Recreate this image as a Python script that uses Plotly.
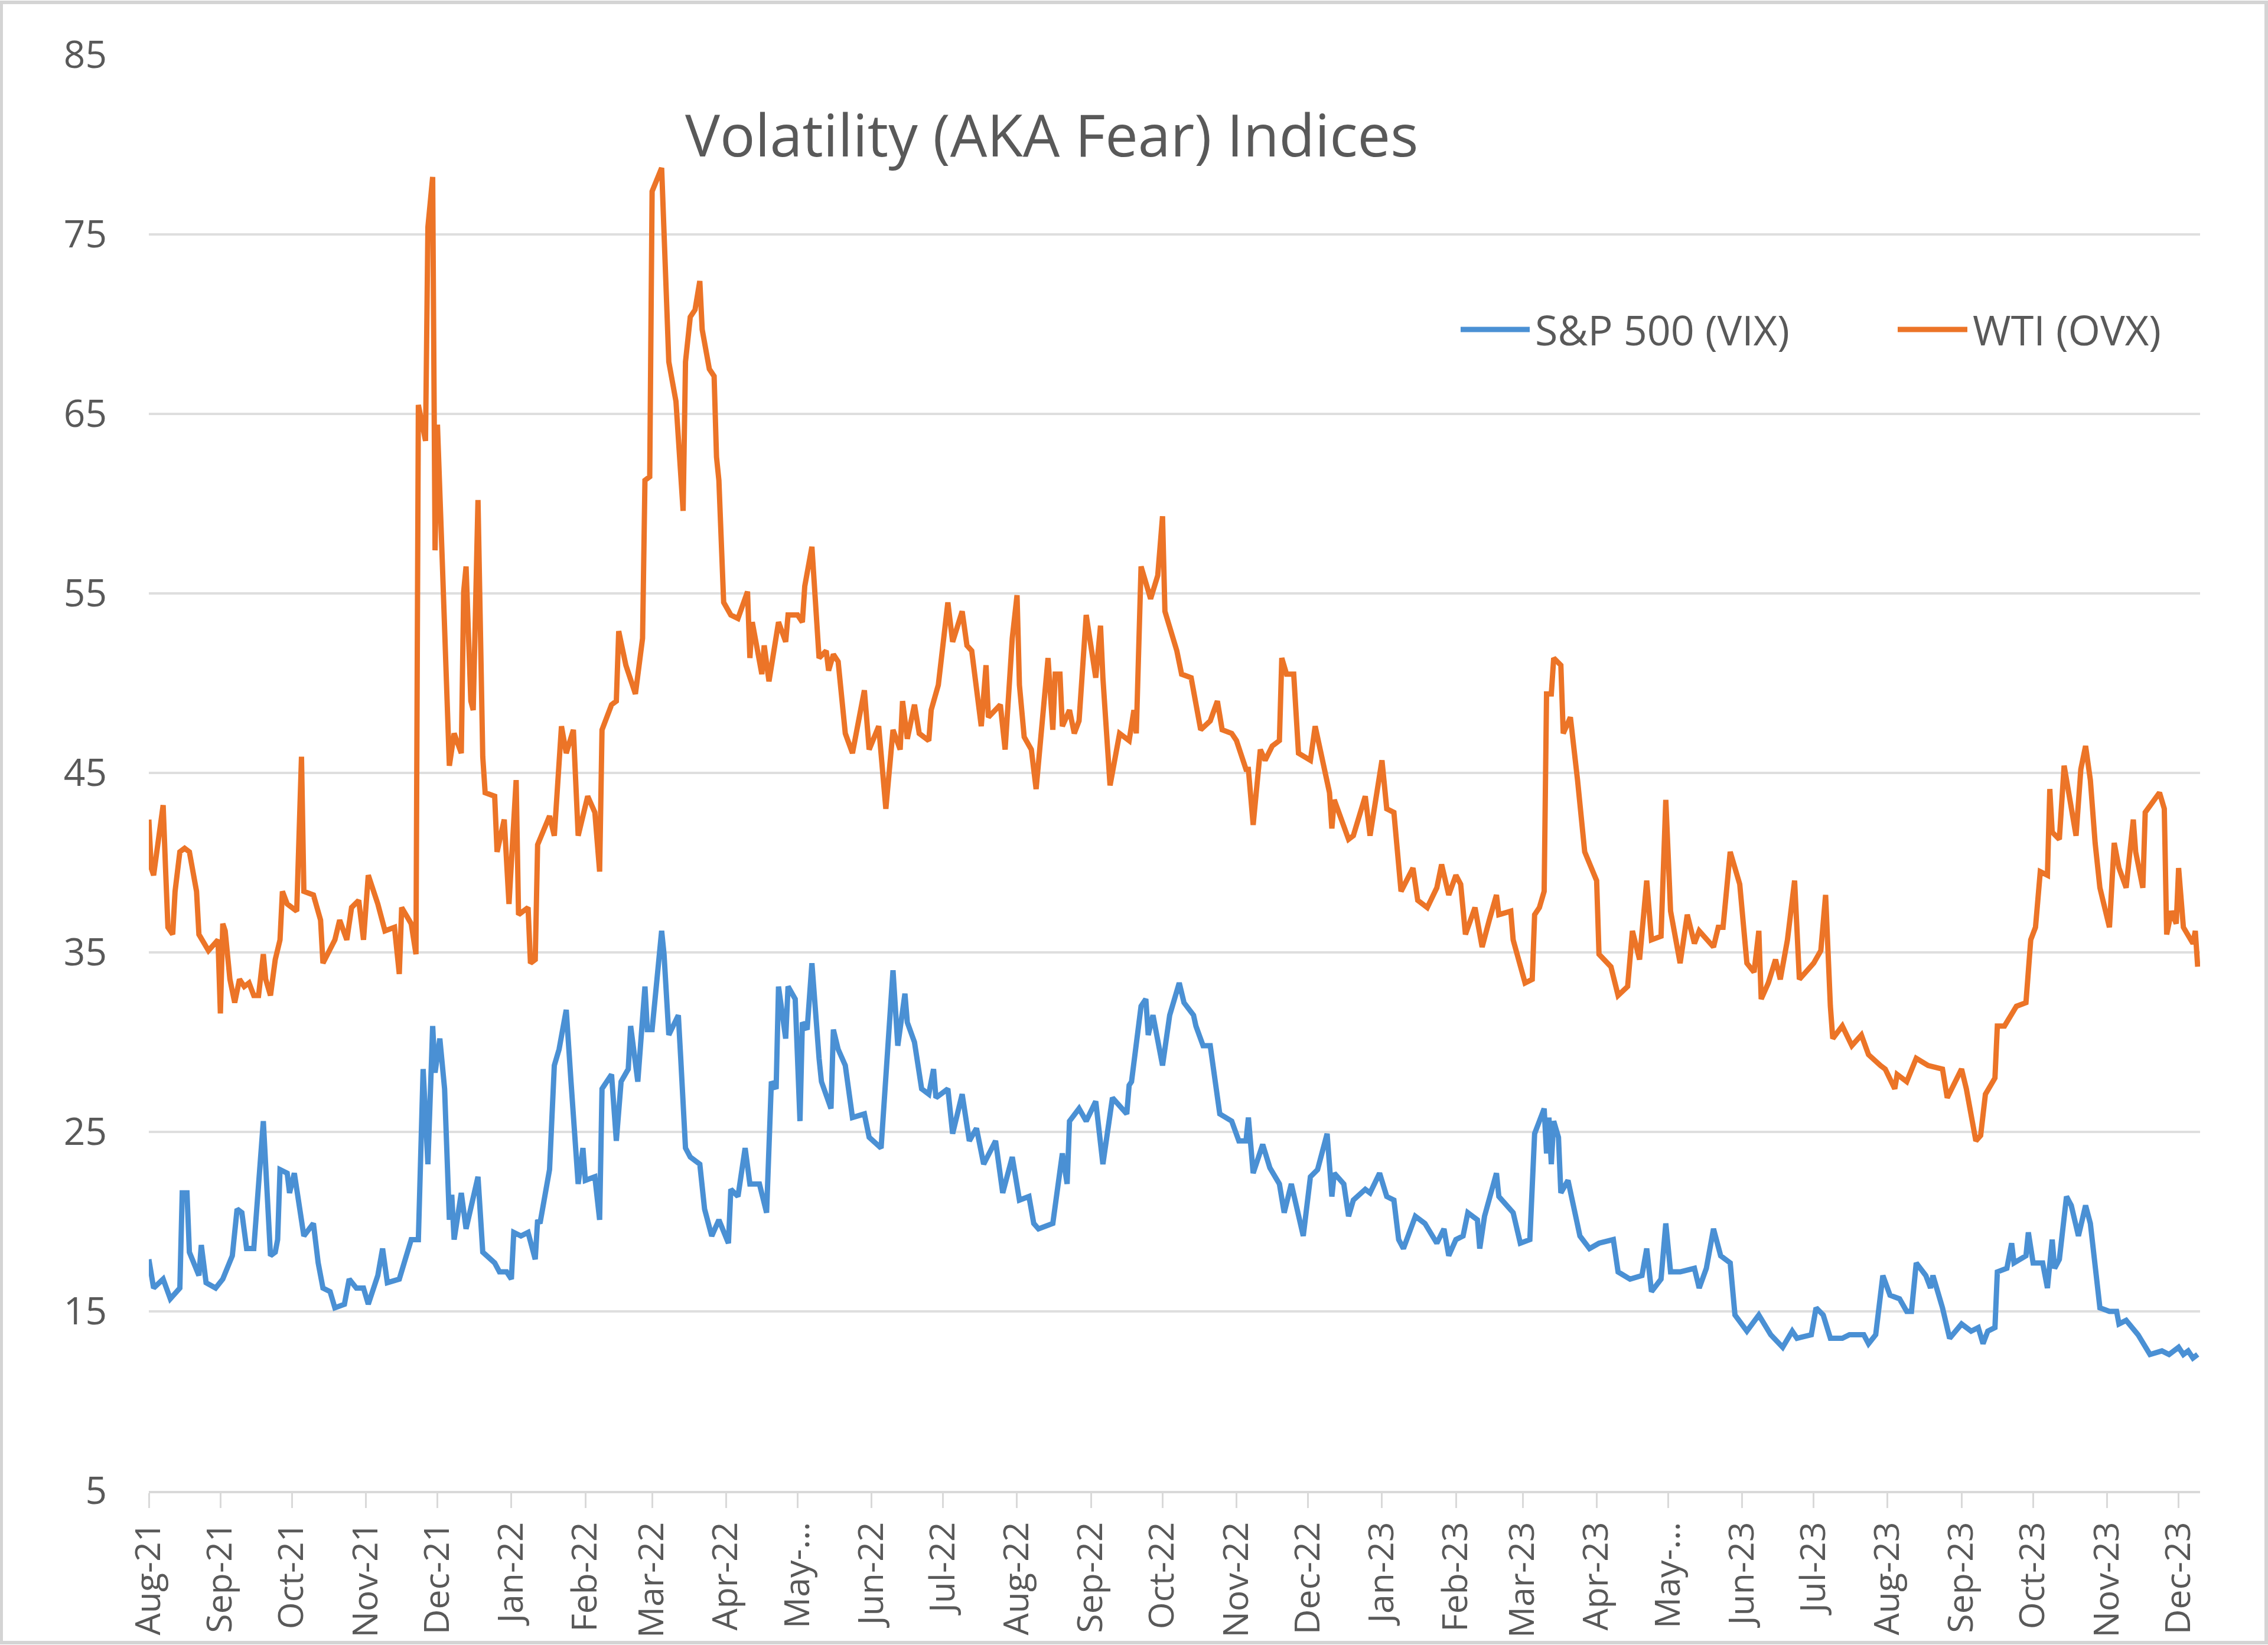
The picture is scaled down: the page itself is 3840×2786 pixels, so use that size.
import pandas as pd
import plotly.graph_objects as go

START = "2021-08-02"
END_DAY = 860

# S&P 500 volatility (VIX): day offsets from START and index values
vix_days = [0, 2, 6, 9, 13, 14, 16, 17, 21, 22, 24, 28, 31, 35, 37, 39, 41, 44, 48, 51, 53, 54, 55, 58, 59, 61, 65, 69, 71, 73, 76, 78, 82, 84, 87, 90, 92, 96, 98, 100, 105, 110, 113, 115, 117, 119, 120, 122, 124, 126, 127, 128, 131, 133, 138, 140, 145,
            147, 150, 152, 153, 156, 159, 162, 163, 164, 168, 169, 170, 172, 175, 177, 179, 180, 182, 183, 187, 189, 190, 194, 196, 198, 201, 202, 205, 208, 209, 211, 215, 216, 218, 222, 223, 225, 227, 231, 233, 236, 239, 243, 244, 247, 250, 252, 256, 259, 261, 263, 264, 267, 268, 271, 273, 274, 276, 278, 281, 282, 286, 287, 289, 292,
            295, 300, 302, 307, 312, 314, 317, 318, 321, 324, 327, 329, 330, 335, 337, 341, 344, 347, 350, 355, 358, 362, 365, 369, 371, 373, 379, 383, 385, 386, 390, 393, 397, 400, 404, 410, 411, 412, 416, 418, 419, 421, 425, 428, 432, 434, 438,
            439, 442, 445, 449, 454, 457, 460, 461, 463, 467, 470, 474, 476, 479, 484, 487, 490, 494, 496, 497, 501, 503, 505, 510, 512, 516, 519, 522, 524, 526, 531, 535, 540, 543, 545, 548, 551, 553, 557, 558, 560, 565, 566, 572, 575, 579, 581,
            583, 585, 586, 587, 588, 589, 591, 592, 595, 598, 600, 604, 608, 614, 616, 621, 626, 628, 630, 634, 636, 638, 642, 648, 650, 653, 656, 659, 663, 665, 670, 675, 680, 685, 689, 691, 697, 699, 702, 705, 710, 713, 715, 719, 721, 724, 726, 727, 730,
            734, 737, 739, 741, 745, 747, 748, 752, 755, 760, 764, 767, 769, 771, 774, 775, 779, 781, 782, 787, 788, 790, 794, 796, 798, 799, 801, 804, 806, 809, 812, 814, 818, 822, 825, 826, 829, 834, 839, 844, 847, 851, 853, 855, 857, 859]
vix_vals = [17.9, 16.3, 16.8, 15.7, 16.3, 21.6, 21.6, 18.3, 17.0, 18.7, 16.6, 16.3, 16.8, 18.1, 20.7, 20.5, 18.5, 18.5, 25.6, 18.1, 18.3, 19.0, 22.9, 22.7, 21.6, 22.7, 19.2, 19.9, 17.7, 16.3, 16.1, 15.2, 15.4, 16.8, 16.3, 16.3, 15.4, 17.0, 18.5, 16.6, 16.8, 19.0, 19.0, 28.5, 23.2, 30.9, 28.3, 30.2, 27.4, 20.1, 21.5, 19.0, 21.6, 19.6, 22.5, 18.3, 17.7,
            17.2, 17.2, 16.8, 19.4, 19.2, 19.4, 17.9, 20.1, 19.9, 22.9, 25.6, 28.7, 29.6, 31.8, 27.8, 24.5, 22.1, 24.1, 22.3, 22.5, 20.1, 27.4, 28.2, 24.5, 27.8, 28.5, 30.9, 27.8, 33.1, 30.7, 30.7, 36.2, 34.9, 30.4, 31.5, 29.1, 24.1, 23.6, 23.2, 20.7, 19.2, 20.1, 18.8, 21.8, 21.4, 24.1, 22.1, 22.1, 20.5, 27.8, 27.4, 33.1, 30.2, 33.1, 32.4, 25.6, 31.1, 30.7, 34.4, 29.1, 27.8, 26.3, 30.7, 29.6, 28.7,
            25.8, 26.0, 24.7, 24.1, 34.0, 29.8, 32.7, 31.1, 30.0, 27.4, 27.1, 28.5, 26.9, 27.4, 24.9, 27.1, 24.5, 25.2, 23.2, 24.5, 21.6, 23.6, 21.2, 21.4, 19.9, 19.6, 19.9, 23.8, 22.1, 25.6, 26.3, 25.6, 26.7, 23.2, 26.9, 26.0, 27.6, 27.8, 32.0, 32.4, 30.4, 31.5, 28.7, 31.5, 33.3, 32.2, 31.5,
            30.9, 29.8, 29.8, 26.0, 25.6, 24.5, 24.5, 25.8, 22.7, 24.3, 23.0, 22.1, 20.5, 22.1, 19.2, 22.5, 22.9, 24.9, 21.4, 22.7, 22.1, 20.3, 21.2, 21.8, 21.6, 22.7, 21.4, 21.2, 19.0, 18.5, 20.3, 19.9, 18.8, 19.6, 18.1, 19.0, 19.2, 20.5, 20.1, 18.5, 20.3, 22.7, 21.4, 20.5, 18.8, 19.0, 24.9,
            25.6, 26.3, 23.8, 25.8, 23.2, 25.6, 24.7, 21.6, 22.3, 20.5, 19.2, 18.5, 18.8, 19.0, 17.2, 16.8, 17.0, 18.5, 16.1, 16.8, 19.9, 17.2, 17.2, 17.4, 16.3, 17.4, 19.6, 18.1, 17.7, 14.8, 13.9, 14.8, 13.7, 13.0, 13.9, 13.5, 13.7, 15.2, 14.8, 13.5, 13.5, 13.7, 13.7, 13.7, 13.2, 13.7, 15.9, 17.0, 15.9,
            15.7, 15.0, 15.0, 17.7, 17.0, 16.3, 17.0, 15.2, 13.5, 14.3, 13.9, 14.1, 13.2, 13.9, 14.1, 17.2, 17.4, 18.8, 17.7, 18.1, 19.4, 17.7, 17.7, 16.3, 19.0, 17.4, 17.9, 21.4, 20.9, 19.2, 20.9, 19.9, 15.2, 15.0, 15.0, 14.3, 14.5, 13.7, 12.6, 12.8, 12.6, 13.0, 12.6, 12.8, 12.4, 12.6]

# WTI crude oil volatility (OVX): day offsets from START and index values
ovx_days = [0, 1, 2, 4, 6, 7, 8, 10, 11, 13, 15, 17, 20, 21, 24, 25, 29, 30, 31, 32, 34, 36, 38, 40, 42, 44, 46, 48, 49, 51, 53, 55, 56, 58, 62, 64, 65, 69, 72, 73, 78, 80, 83, 85, 88, 90, 92, 96, 99, 103, 105, 106, 110, 112, 113, 116, 117, 119, 120, 121, 123, 126, 128, 131, 132, 133, 135, 136, 138, 140, 141, 145,
            146, 149, 151, 154, 155, 159, 160, 162, 163, 168, 170, 173, 175, 178, 180, 184, 187, 189, 190, 194, 196, 197, 200, 204, 207, 208, 210, 211, 215, 218, 221, 224, 225, 227, 229, 231, 232, 235, 237, 238, 239, 241, 244, 247, 251, 252, 253, 257, 258, 260, 264, 267, 268, 272, 274, 275, 278, 280, 281, 284, 285, 287, 289, 292,
            295, 300, 302, 306, 309, 312, 315, 316, 318, 321, 323, 327, 328, 331, 335, 337, 341, 343, 345, 349, 351, 352, 357, 359, 362, 364, 365, 367, 370, 372, 377, 379, 380, 382, 383, 386, 388, 390, 393, 397, 399, 400, 403, 407, 411, 413, 414, 416, 420, 423, 425, 426, 428, 431, 433, 437,
            441, 445, 448, 450, 454, 456, 460, 461, 463, 466, 468, 471, 474, 475, 477, 480, 482, 487, 489, 492, 495, 496, 497, 500, 503, 505, 510, 512, 517, 519, 522, 525, 530, 532, 536, 540, 542, 545, 548, 550, 552, 556, 559, 562, 565, 566, 571, 572, 577, 580, 581, 583,
            585, 586, 588, 589, 592, 593, 596, 599, 602, 607, 608, 613, 616, 620, 622, 625, 628, 630, 634, 636, 638, 642, 645, 648, 650, 656, 658, 660, 663, 667, 670, 673, 675, 676, 679, 682, 684, 687, 690, 692, 698, 701, 703, 705, 706, 710, 714, 718, 721, 726,
            728, 732, 733, 737, 741, 746, 752, 754, 760, 762, 766, 768, 770, 774, 775, 778, 783, 787, 789, 791, 793, 796, 797, 798, 801, 803, 806, 808, 810, 812, 814, 816, 818, 822, 824, 826, 829, 832, 833, 836, 837, 843, 845, 846, 848, 850, 851, 853, 857, 858, 859]
ovx_vals = [42.4, 39.7, 39.3, 41.3, 43.2, 39.7, 36.4, 36.0, 38.4, 40.6, 40.8, 40.6, 38.4, 36.0, 35.3, 35.1, 35.7, 31.6, 36.6, 36.2, 33.5, 32.2, 33.5, 33.1, 33.3, 32.6, 32.6, 34.9, 33.5, 32.6, 34.6, 35.7, 38.4, 37.7, 37.3, 45.9, 38.4, 38.2, 36.8, 34.4, 35.7, 36.8, 35.7, 37.5, 37.9, 35.7, 39.3, 37.7, 36.2, 36.4, 33.8, 37.5, 36.6, 34.9, 65.5, 63.5, 75.4, 78.2, 57.4, 64.4, 56.9, 45.4, 47.2, 46.1, 55.1, 56.5, 49.0, 48.5, 60.2, 45.9, 43.9, 43.7,
            40.6, 42.4, 37.7, 44.6, 37.1, 37.5, 34.4, 34.6, 41.0, 42.6, 41.5, 47.6, 46.1, 47.4, 41.5, 43.7, 42.8, 39.5, 47.4, 48.8, 49.0, 52.9, 51.0, 49.4, 52.5, 61.3, 61.5, 77.4, 78.7, 67.9, 65.7, 59.6, 67.9, 70.4, 70.8, 72.4, 69.7, 67.5, 67.1, 62.6, 61.3, 54.5, 53.8, 53.6, 55.1, 51.4, 53.4, 50.5, 52.1, 50.1, 53.4, 52.3, 53.8, 53.8, 53.4, 55.4, 57.6, 53.4, 51.4, 51.8, 50.7, 51.6, 51.2, 47.2,
            46.1, 49.6, 46.3, 47.6, 43.0, 47.4, 46.3, 49.0, 46.9, 48.8, 47.2, 46.8, 48.5, 49.9, 54.5, 52.3, 54.0, 52.1, 51.8, 47.6, 51.0, 48.1, 48.8, 46.3, 52.5, 54.9, 49.9, 47.0, 46.3, 44.1, 51.4, 47.4, 50.5, 50.5, 47.6, 48.5, 47.2, 47.9, 53.8, 50.3, 53.2, 50.3, 44.3, 47.2, 46.8, 48.5, 47.2, 56.5, 54.7, 56.0, 59.3, 54.0, 53.2, 51.8, 50.5, 50.3,
            47.4, 47.9, 49.0, 47.4, 47.2, 46.8, 45.2, 45.2, 42.1, 46.3, 45.7, 46.5, 46.8, 51.4, 50.5, 50.5, 46.1, 45.7, 47.6, 45.7, 43.9, 41.9, 43.5, 42.4, 41.3, 41.5, 43.7, 41.5, 45.7, 43.0, 42.8, 38.4, 39.7, 37.9, 37.5, 38.6, 39.9, 38.2, 39.3, 38.8, 36.0, 37.5, 35.3, 36.8, 38.2, 37.1, 37.3, 35.7, 33.3, 33.5, 37.1, 37.5,
            38.4, 49.4, 49.4, 51.4, 51.0, 47.2, 48.1, 44.6, 40.6, 39.0, 34.9, 34.2, 32.6, 33.1, 36.2, 34.6, 39.0, 35.7, 35.9, 43.5, 37.3, 34.4, 37.1, 35.5, 36.2, 35.3, 36.4, 36.4, 40.6, 38.8, 34.4, 33.9, 36.2, 32.4, 33.3, 34.6, 33.5, 35.7, 39.0, 33.5, 34.4, 35.1, 38.2, 32.0, 30.2, 30.9, 29.8, 30.4, 29.3, 28.7,
            28.5, 27.4, 28.2, 27.8, 29.1, 28.7, 28.5, 26.9, 28.5, 27.4, 24.5, 24.8, 27.1, 28.0, 30.9, 30.9, 32.0, 32.2, 35.7, 36.4, 39.5, 39.3, 44.1, 41.7, 41.3, 45.4, 43.0, 41.5, 45.2, 46.5, 44.6, 41.1, 38.6, 36.4, 41.1, 39.7, 38.6, 42.4, 40.6, 38.6, 42.8, 43.9, 43.0, 36.0, 37.3, 36.6, 39.7, 36.4, 35.5, 36.2, 34.2]

# Category tick marks (first point of each month) and their labels
tick_dates = ["2021-08-02", "2021-09-01", "2021-10-01", "2021-11-01", "2021-12-01",
              "2022-01-01", "2022-02-01", "2022-03-01", "2022-04-01", "2022-05-01", "2022-06-01",
              "2022-07-01", "2022-08-01", "2022-09-01", "2022-10-01", "2022-11-01", "2022-12-01",
              "2023-01-01", "2023-02-01", "2023-03-01", "2023-04-01", "2023-05-01", "2023-06-01",
              "2023-07-01", "2023-08-01", "2023-09-01", "2023-10-01", "2023-11-01", "2023-12-01"]
tick_labels = ["Aug-21", "Sep-21", "Oct-21", "Nov-21", "Dec-21",
               "Jan-22", "Feb-22", "Mar-22", "Apr-22", "May-…", "Jun-22",
               "Jul-22", "Aug-22", "Sep-22", "Oct-22", "Nov-22", "Dec-22",
               "Jan-23", "Feb-23", "Mar-23", "Apr-23", "May-…", "Jun-23",
               "Jul-23", "Aug-23", "Sep-23", "Oct-23", "Nov-23", "Dec-23"]

series_names = ["S&P 500 (VIX)", "WTI (OVX)"]
series_colors = ["#4A90D4", "#EC7427"]

start = pd.Timestamp(START)
vix_x = start + pd.to_timedelta(vix_days, unit="D")
ovx_x = start + pd.to_timedelta(ovx_days, unit="D")
x_end = start + pd.Timedelta(days=END_DAY)

W, H = 3840, 2786
ML, MR, MT, MB = 252, 115, 93, 261
PW, PH = W - ML - MR, H - MT - MB
FONT = "Open Sans"
GREY = "#595959"
LW = 9


def px_x(p):
    return (p - ML) / PW


def px_y(p):
    return (H - MB - p) / PH


fig = go.Figure()
fig.add_trace(go.Scatter(x=vix_x, y=vix_vals, mode="lines", name=series_names[0],
                         line=dict(color=series_colors[0], width=LW), showlegend=False))
fig.add_trace(go.Scatter(x=ovx_x, y=ovx_vals, mode="lines", name=series_names[1],
                         line=dict(color=series_colors[1], width=LW), showlegend=False))

shapes = [
    # outer chart frame
    dict(type="rect", xref="paper", yref="paper",
         x0=px_x(2), x1=px_x(W - 3), y0=px_y(H - 4), y1=px_y(4),
         line=dict(color="#D4D4D4", width=6), fillcolor="rgba(0,0,0,0)", layer="below"),
]
annotations = [
    dict(text="Volatility (AKA Fear) Indices", xref="paper", yref="paper",
         x=px_x(1780), y=px_y(226), xanchor="center", yanchor="middle", showarrow=False,
         font=dict(family=FONT, size=99, color=GREY)),
]
# legend drawn manually to match the long line samples
legend_pos = [(2473, 2590, 2597), (3213, 3331, 3338)]
for (lx0, lx1, tx), name, col in zip(legend_pos, series_names, series_colors):
    shapes.append(dict(type="line", xref="paper", yref="paper",
                       x0=px_x(lx0), x1=px_x(lx1), y0=px_y(558), y1=px_y(558),
                       line=dict(color=col, width=LW)))
    annotations.append(dict(text=name, xref="paper", yref="paper", x=px_x(tx), y=px_y(558),
                            xanchor="left", yanchor="middle", showarrow=False,
                            font=dict(family=FONT, size=70, color=GREY)))

fig.update_layout(
    width=W, height=H,
    margin=dict(l=ML, r=MR, t=MT, b=MB),
    paper_bgcolor="white", plot_bgcolor="white",
    shapes=shapes, annotations=annotations,
    showlegend=False,
    xaxis=dict(type="date", range=[start, x_end],
               tickmode="array", tickvals=tick_dates, ticktext=tick_labels,
               tickangle=-90, ticks="outside", ticklen=25, tickwidth=3, tickcolor="#D9D9D9",
               showgrid=False, showline=True, linecolor="#D9D9D9", linewidth=4,
               tickfont=dict(family=FONT, size=59, color=GREY), zeroline=False),
    yaxis=dict(range=[5, 85], tick0=5, dtick=10, showgrid=True, gridcolor="#DEDEDE", gridwidth=4,
               showline=False, zeroline=False, ticks="",
               tickfont=dict(family=FONT, size=64, color=GREY), ticklabelstandoff=70),
)

fig.write_html("out.html", config={"displayModeBar": False},
               post_script="document.body.style.margin='0px';document.body.style.overflow='hidden';")
